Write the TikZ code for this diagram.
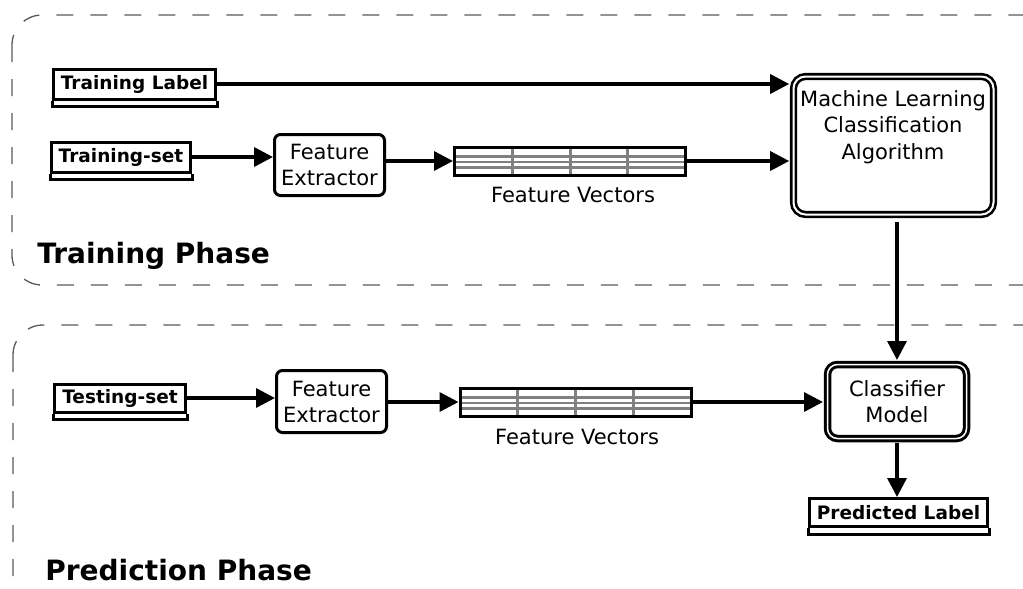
\documentclass[tikz,border=0pt]{standalone}
\usepackage{fontspec}
\setmainfont{DejaVu Sans}
\usetikzlibrary{arrows.meta,calc}

\tikzset{every picture/.style={line width=0.75pt}}
\tikzset{
  phasebox/.style={draw=black!65, line width=1.3pt, dash pattern=on 17pt off 17pt, rounded corners=30pt},
  databox/.style={draw, line width=3pt, inner sep=0pt, font=\fontsize{18.5}{20}\selectfont\bfseries},
  procbox/.style={draw, line width=3pt, rounded corners=6pt, inner sep=0pt, align=center, font=\fontsize{21}{26}\selectfont},
  algobox/.style={draw, line width=2.6pt, double, double distance=2pt, rounded corners=12pt, inner sep=0pt},
  vecbox/.style={draw, line width=3pt, inner sep=0pt, minimum width=231pt, minimum height=28pt,
    path picture={
      \foreach \f in {0.25,0.5,0.75}
        \draw[black!50, line width=3pt] ($(path picture bounding box.north west)!\f!(path picture bounding box.north east)$) -- ($(path picture bounding box.south west)!\f!(path picture bounding box.south east)$);
      \foreach \f in {0.33,0.53,0.73}
        \draw[black!50, line width=2.6pt] ($(path picture bounding box.north west)!\f!(path picture bounding box.south west)$) -- ($(path picture bounding box.north east)!\f!(path picture bounding box.south east)$);
    }},
  plaintext/.style={inner sep=0pt, align=center, font=\fontsize{21}{26.5}\selectfont},
  phasetitle/.style={inner sep=0pt, anchor=west, font=\fontsize{28}{30}\selectfont\bfseries},
  flow/.style={-{Triangle[length=19pt,width=19pt]}, line width=3.4pt},
}

\begin{document}
\begin{tikzpicture}[x=1pt,y=1pt,yscale=-1,xscale=1]
\useasboundingbox (0,0) rectangle (1023,589);

%Shape: Rounded Rect [Training Phase]
\draw[phasebox] (12,15) rectangle (1065,285);
%Shape: Rounded Rect [Prediction Phase]
\draw[phasebox] (13,325) rectangle (1065,615);

% Training phase nodes
\node[databox, minimum width=162pt, minimum height=30pt] (tlabel) at (134.5,84) {Training Label};
\node[databox, minimum width=139pt, minimum height=30pt] (tset) at (121,157) {Training-set};
\node[procbox, minimum width=110pt, minimum height=61pt] (tfe) at (329.5,165) {Feature\\Extractor};
\node[vecbox] (tfv) at (570,161) {};
\node[plaintext] (tfvlab) at (573,195) {Feature Vectors};
\node[algobox, minimum width=200pt, minimum height=138pt] (ml) at (893.5,145.5) {};
\node[plaintext] (mltext) at (893,127) {Machine Learning\\Classification\\Algorithm};
% Text Node
\node[phasetitle] (tphase) at (37,256) {Training Phase};

% Prediction phase nodes
\node[databox, minimum width=131pt, minimum height=28pt] (sset) at (120,398) {Testing-set};
\node[procbox, minimum width=110pt, minimum height=62pt] (pfe) at (331.5,401.5) {Feature\\Extractor};
\node[vecbox] (pfv) at (575.5,402) {};
\node[plaintext] (pfvlab) at (577,437) {Feature Vectors};
\node[algobox, line width=3pt, double distance=1.5pt, rounded corners=10pt, minimum width=139pt, minimum height=74pt, align=center, font=\fontsize{21}{26}\selectfont] (cm) at (897,401.5) {Classifier\\Model};
\node[databox, minimum width=178pt, minimum height=28pt] (plabel) at (898.5,512.5) {Predicted Label};
% Text Node
\node[phasetitle] (pphase) at (45,570) {Prediction Phase};

% double bottom edge of the data boxes
\foreach \n in {tlabel,tset,sset,plabel}
  \draw[line width=3pt] (\n.south west) -- ++(0,6) -| (\n.south east);

% Arrows
\draw[flow, shorten >=3pt] (tlabel) -- (tlabel -| ml.west);
\draw[flow] (tset) -- (tset -| tfe.west);
\draw[flow] (tfe.east |- tfv) -- (tfv.west);
\draw[flow, shorten >=3pt] (tfv) -- (tfv -| ml.west);
\draw[flow, shorten <=6pt, shorten >=3pt] (ml.south -| cm) -- (cm.north);
\draw[flow] (sset) -- (sset -| pfe.west);
\draw[flow] (pfe.east |- pfv) -- (pfv.west);
\draw[flow, shorten >=3pt] (pfv) -- (pfv -| cm.west);
\draw[flow, shorten <=3pt] (cm.south) -- (cm.south |- plabel.north);

\end{tikzpicture}
\end{document}
